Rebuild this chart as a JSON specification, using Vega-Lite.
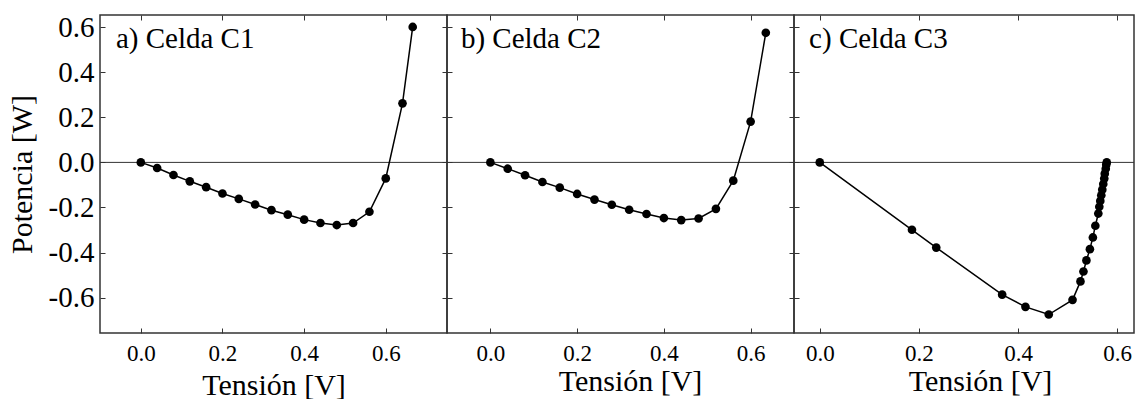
{
  "$schema": "https://vega.github.io/schema/vega-lite/v6.json",
  "padding": {"left": 6, "top": 12, "right": 0, "bottom": 0},
  "bounds": "flush",
  "spacing": 0,
  "datasets": {
    "c1": [
      {"v": 0.0, "p": 0.0}, {"v": 0.04, "p": -0.025}, {"v": 0.08, "p": -0.056}, {"v": 0.12, "p": -0.084},
      {"v": 0.16, "p": -0.11}, {"v": 0.2, "p": -0.138}, {"v": 0.24, "p": -0.162}, {"v": 0.28, "p": -0.187},
      {"v": 0.32, "p": -0.212}, {"v": 0.36, "p": -0.232}, {"v": 0.4, "p": -0.254}, {"v": 0.44, "p": -0.269},
      {"v": 0.48, "p": -0.278}, {"v": 0.52, "p": -0.269}, {"v": 0.56, "p": -0.219}, {"v": 0.6, "p": -0.071},
      {"v": 0.641, "p": 0.262}, {"v": 0.666, "p": 0.601}
    ],
    "c2": [
      {"v": 0.0, "p": 0.0}, {"v": 0.04, "p": -0.028}, {"v": 0.08, "p": -0.057}, {"v": 0.12, "p": -0.087},
      {"v": 0.16, "p": -0.112}, {"v": 0.2, "p": -0.14}, {"v": 0.24, "p": -0.165}, {"v": 0.28, "p": -0.188},
      {"v": 0.32, "p": -0.21}, {"v": 0.36, "p": -0.229}, {"v": 0.4, "p": -0.247}, {"v": 0.44, "p": -0.256},
      {"v": 0.48, "p": -0.249}, {"v": 0.52, "p": -0.206}, {"v": 0.56, "p": -0.081}, {"v": 0.6, "p": 0.181},
      {"v": 0.635, "p": 0.575}
    ],
    "c3": [
      {"v": 0.0, "p": 0.0}, {"v": 0.186, "p": -0.299}, {"v": 0.235, "p": -0.378}, {"v": 0.368, "p": -0.587},
      {"v": 0.415, "p": -0.641}, {"v": 0.462, "p": -0.675}, {"v": 0.51, "p": -0.61}, {"v": 0.526, "p": -0.528},
      {"v": 0.532, "p": -0.484}, {"v": 0.538, "p": -0.435}, {"v": 0.545, "p": -0.385}, {"v": 0.551, "p": -0.333},
      {"v": 0.556, "p": -0.281}, {"v": 0.562, "p": -0.227}, {"v": 0.564, "p": -0.197}, {"v": 0.566, "p": -0.171},
      {"v": 0.568, "p": -0.146}, {"v": 0.57, "p": -0.121}, {"v": 0.572, "p": -0.096}, {"v": 0.574, "p": -0.072},
      {"v": 0.575, "p": -0.05}, {"v": 0.577, "p": -0.028}, {"v": 0.578, "p": -0.01}, {"v": 0.579, "p": 0.0}
    ],
    "one": [{}]
  },
  "hconcat": [
    {
      "width": 347, "height": 318,
      "layer": [
        {"data": {"name": "one"}, "mark": {"type": "rule", "color": "#333", "strokeWidth": 1},
         "encoding": {"y": {"datum": 0, "type": "quantitative", "axis": null, "scale": {"domain": [-0.757, 0.654], "nice": false, "zero": false}}}},
        {"data": {"name": "c1"}, "mark": {"type": "line", "color": "black", "strokeWidth": 1.5},
         "encoding": {
           "x": {"field": "v", "type": "quantitative", "scale": {"domain": [-0.1, 0.75], "nice": false, "zero": false},
                 "axis": {"orient": "bottom", "values": [0, 0.2, 0.4, 0.6], "format": ".1f", "title": "Tensión [V]", "labelFontSize": 23, "titleFontSize": 30, "labelPadding": 14, "titlePadding": 5}},
           "y": {"field": "p", "type": "quantitative", "scale": {"domain": [-0.757, 0.654], "nice": false, "zero": false},
                 "axis": {"orient": "left", "values": [-0.6, -0.4, -0.2, 0, 0.2, 0.4, 0.6], "format": ".1f", "title": "Potencia [W]", "labelFontSize": 29, "titleFontSize": 30, "labelPadding": 11, "titlePadding": 11}}
         }},
        {"data": {"name": "c1"}, "mark": {"type": "point", "filled": true, "color": "black", "size": 75, "opacity": 1},
         "encoding": {
           "x": {"field": "v", "type": "quantitative", "scale": {"domain": [-0.1, 0.75], "nice": false, "zero": false},
                 "axis": {"orient": "top", "values": [0, 0.2, 0.4, 0.6], "labels": false, "title": null}},
           "y": {"field": "p", "type": "quantitative", "scale": {"domain": [-0.757, 0.654], "nice": false, "zero": false},
                 "axis": {"orient": "right", "values": [-0.6, -0.4, -0.2, 0, 0.2, 0.4, 0.6], "labels": false, "title": null}}
         }},
        {"data": {"name": "one"}, "mark": {"type": "text", "font": "Liberation Serif", "fontSize": 29, "align": "left", "baseline": "alphabetic", "color": "black"},
         "encoding": {"x": {"datum": -0.061, "type": "quantitative", "axis": null}, "y": {"datum": 0.509, "type": "quantitative", "axis": null}, "text": {"value": "a) Celda C1"}}}
      ],
      "resolve": {"axis": {"x": "independent", "y": "independent"}}
    },
    {
      "width": 347, "height": 318,
      "layer": [
        {"data": {"name": "one"}, "mark": {"type": "rule", "color": "#333", "strokeWidth": 1},
         "encoding": {"y": {"datum": 0, "type": "quantitative", "axis": null, "scale": {"domain": [-0.757, 0.654], "nice": false, "zero": false}}}},
        {"data": {"name": "c2"}, "mark": {"type": "line", "color": "black", "strokeWidth": 1.5},
         "encoding": {
           "x": {"field": "v", "type": "quantitative", "scale": {"domain": [-0.1, 0.7], "nice": false, "zero": false},
                 "axis": {"orient": "bottom", "values": [0, 0.2, 0.4, 0.6], "format": ".1f", "title": "Tensión [V]", "labelFontSize": 23, "titleFontSize": 30, "labelPadding": 14, "titlePadding": 1, "titleX": 183}},
           "y": {"field": "p", "type": "quantitative", "scale": {"domain": [-0.757, 0.654], "nice": false, "zero": false},
                 "axis": {"orient": "left", "values": [-0.6, -0.4, -0.2, 0, 0.2, 0.4, 0.6], "labels": false, "title": null}}
         }},
        {"data": {"name": "c2"}, "mark": {"type": "point", "filled": true, "color": "black", "size": 75, "opacity": 1},
         "encoding": {
           "x": {"field": "v", "type": "quantitative", "scale": {"domain": [-0.1, 0.7], "nice": false, "zero": false},
                 "axis": {"orient": "top", "values": [0, 0.2, 0.4, 0.6], "labels": false, "title": null}},
           "y": {"field": "p", "type": "quantitative", "scale": {"domain": [-0.757, 0.654], "nice": false, "zero": false},
                 "axis": {"orient": "right", "values": [-0.6, -0.4, -0.2, 0, 0.2, 0.4, 0.6], "labels": false, "title": null}}
         }},
        {"data": {"name": "one"}, "mark": {"type": "text", "font": "Liberation Serif", "fontSize": 29, "align": "left", "baseline": "alphabetic", "color": "black"},
         "encoding": {"x": {"datum": -0.068, "type": "quantitative", "axis": null}, "y": {"datum": 0.506, "type": "quantitative", "axis": null}, "text": {"value": "b) Celda C2"}}}
      ],
      "resolve": {"axis": {"x": "independent", "y": "independent"}}
    },
    {
      "width": 340, "height": 318,
      "layer": [
        {"data": {"name": "one"}, "mark": {"type": "rule", "color": "#333", "strokeWidth": 1},
         "encoding": {"y": {"datum": 0, "type": "quantitative", "axis": null, "scale": {"domain": [-0.757, 0.654], "nice": false, "zero": false}}}},
        {"data": {"name": "c3"}, "mark": {"type": "line", "color": "black", "strokeWidth": 1.5},
         "encoding": {
           "x": {"field": "v", "type": "quantitative", "scale": {"domain": [-0.052, 0.634], "nice": false, "zero": false},
                 "axis": {"orient": "bottom", "values": [0, 0.2, 0.4, 0.6], "format": ".1f", "title": "Tensión [V]", "labelFontSize": 23, "titleFontSize": 30, "labelPadding": 14, "titlePadding": 1, "titleX": 186}},
           "y": {"field": "p", "type": "quantitative", "scale": {"domain": [-0.757, 0.654], "nice": false, "zero": false},
                 "axis": {"orient": "left", "values": [-0.6, -0.4, -0.2, 0, 0.2, 0.4, 0.6], "labels": false, "title": null}}
         }},
        {"data": {"name": "c3"}, "mark": {"type": "point", "filled": true, "color": "black", "size": 75, "opacity": 1},
         "encoding": {
           "x": {"field": "v", "type": "quantitative", "scale": {"domain": [-0.052, 0.634], "nice": false, "zero": false},
                 "axis": {"orient": "top", "values": [0, 0.2, 0.4, 0.6], "labels": false, "title": null}},
           "y": {"field": "p", "type": "quantitative", "scale": {"domain": [-0.757, 0.654], "nice": false, "zero": false}, "axis": null}
         }},
        {"data": {"name": "one"}, "mark": {"type": "text", "font": "Liberation Serif", "fontSize": 29, "align": "left", "baseline": "alphabetic", "color": "black"},
         "encoding": {"x": {"datum": -0.0215, "type": "quantitative", "axis": null}, "y": {"datum": 0.506, "type": "quantitative", "axis": null}, "text": {"value": "c) Celda C3"}}}
      ],
      "resolve": {"axis": {"x": "independent", "y": "independent"}}
    }
  ],
  "config": {
    "locale": {"number": {"decimal": ".", "thousands": ",", "grouping": [3], "currency": ["$", ""], "minus": "-"}},
    "view": {"stroke": "#333", "strokeWidth": 1.5},
    "axis": {"domain": false, "grid": false, "tickSize": -5, "tickColor": "#333", "tickWidth": 1,
             "labelFont": "Liberation Serif", "titleFont": "Liberation Serif", "labelColor": "black", "titleColor": "black", "titleFontWeight": "normal"},
    "axisY": {"titleAngle": 270}
  }
}
